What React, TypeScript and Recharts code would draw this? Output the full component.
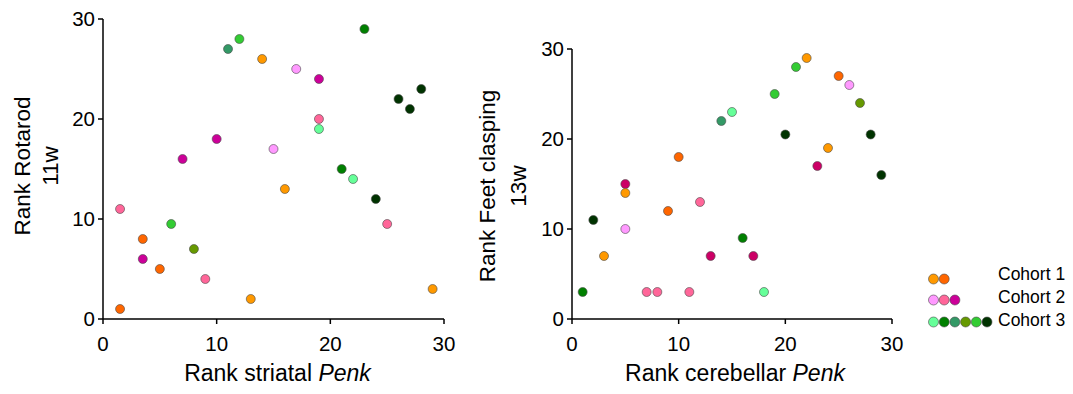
import React from "react";
import { ScatterChart, Scatter, XAxis, YAxis, Label } from "recharts";

const FONT = '"Liberation Sans", Arial, Helvetica, sans-serif';

// animal colour keys: 1x = cohort 1, 2x = cohort 2, 3x = cohort 3
const palette: Record<string, string> = {
  "1a": "#FF9900",
  "1b": "#FF6600",
  "2a": "#FF99FF",
  "2b": "#FF6699",
  "2c": "#CC0099",
  "3a": "#66FF99",
  "3b": "#008000",
  "3c": "#339966",
  "3d": "#669900",
  "3e": "#33CC33",
  "3f": "#003300",
};
const cerebellarPalette = { ...palette, "2c": "#CC0066" };

const cohortNames = ["Cohort 1", "Cohort 2", "Cohort 3"];
const cohortKeys = [
  ["1a", "1b"],
  ["2a", "2b", "2c"],
  ["3a", "3b", "3c", "3d", "3e", "3f"],
];

const axisTicks = [0, 10, 20, 30];

// left panel: striatal Penk vs rotarod
const striatalRank = [1.5, 1.5, 3.5, 3.5, 5, 6, 8, 9, 7, 10, 11, 12, 13, 14, 15, 16, 17, 19, 19, 19, 21, 22, 23, 24, 25, 26, 27, 28, 29];
const rotarodRank = [11, 1, 8, 6, 5, 9.5, 7, 4, 16, 18, 27, 28, 2, 26, 17, 13, 25, 24, 20, 19, 15, 14, 29, 12, 9.5, 22, 21, 23, 3];
const striatalGroup = ["2b", "1b", "1b", "2c", "1b", "3e", "3d", "2b", "2c", "2c", "3c", "3e", "1a", "1a", "2a", "1a", "2a", "2c", "2b", "3a", "3b", "3a", "3b", "3f", "2b", "3f", "3f", "3f", "1a"];

// right panel: cerebellar Penk vs feet clasping
const cerebellarRank = [1, 2, 3, 5, 5, 5, 7, 8, 9, 10, 11, 12, 13, 14, 15, 16, 17, 18, 19, 20, 21, 22, 23, 24, 25, 26, 27, 28, 29];
const claspingRank = [3, 11, 7, 15, 14, 10, 3, 3, 12, 18, 3, 13, 7, 22, 23, 9, 7, 3, 25, 20.5, 28, 29, 17, 19, 27, 26, 24, 20.5, 16];
const cerebellarGroup = ["3b", "3f", "1a", "2c", "1a", "2a", "2b", "2b", "1b", "1b", "2b", "2b", "2c", "3c", "3a", "3b", "2c", "3a", "3e", "3f", "3e", "1a", "2c", "1a", "1b", "2a", "3d", "3f", "3f"];

const striatalData = striatalRank.map((x, i) => ({ x, y: rotarodRank[i], g: striatalGroup[i] }));
const cerebellarData = cerebellarRank.map((x, i) => ({ x, y: claspingRank[i], g: cerebellarGroup[i] }));

const makeDot = (pal: Record<string, string>) => (props: any) => (
  <circle
    cx={props.cx}
    cy={props.cy}
    r={4.5}
    fill={pal[props.payload.g]}
    stroke="#4a4a4a"
    strokeWidth={0.6}
  />
);

type PanelProps = {
  data: { x: number; y: number; g: string }[];
  pal: Record<string, string>;
  left: number;
  width: number;
  margin: { top: number; right: number; bottom: number; left: number };
  xLabel: string;
  xLabelX: number;
  yLines: [string, string];
  yLineX: [number, number];
  yLabelY: number;
};

const Panel = ({ data, pal, left, width, margin, xLabel, xLabelX, yLines, yLineX, yLabelY }: PanelProps) => {
  const axisStyle = { stroke: "#000", strokeWidth: 1.5 };
  const tickStyle = { fill: "#000", fontSize: 20.5, fontFamily: FONT };
  return (
    <div style={{ position: "absolute", left, top: 0 }}>
      <ScatterChart width={width} height={394} margin={margin}>
        <XAxis
          type="number"
          dataKey="x"
          domain={[0, 30]}
          ticks={axisTicks}
          tickSize={5}
          tickMargin={12}
          height={40}
          axisLine={axisStyle}
          tickLine={axisStyle}
          tick={tickStyle}
          allowDataOverflow
        >
          <Label
            content={() => (
              <text x={xLabelX} y={381} textAnchor="middle" fontSize={23} fontFamily={FONT} fill="#000">
                <tspan>{xLabel} </tspan>
                <tspan fontStyle="italic">Penk</tspan>
              </text>
            )}
          />
        </XAxis>
        <YAxis
          type="number"
          dataKey="y"
          domain={[0, 30]}
          ticks={axisTicks}
          tickSize={5}
          tickMargin={3}
          width={60}
          axisLine={axisStyle}
          tickLine={axisStyle}
          tick={tickStyle}
          allowDataOverflow
        >
          <Label
            content={() => (
              <g fontSize={22.5} fontFamily={FONT} fill="#000">
                {yLines.map((line, i) => (
                  <text
                    key={line}
                    x={yLineX[i]}
                    y={yLabelY}
                    textAnchor="middle"
                    transform={`rotate(-90, ${yLineX[i]}, ${yLabelY})`}
                  >
                    {line}
                  </text>
                ))}
              </g>
            )}
          />
        </YAxis>
        <Scatter data={data} shape={makeDot(pal)} isAnimationActive={false} />
      </ScatterChart>
    </div>
  );
};

const Legend = () => (
  <svg width={153} height={80} style={{ position: "absolute", left: 920, top: 260 }}>
    {cohortNames.map((name, row) => {
      const cy = [19, 40, 62][row];
      const baseline = [20, 43, 66][row];
      return (
        <g key={name}>
          {cohortKeys[row].map((k, i) => (
            <circle key={k} cx={13.5 + i * 10.7} cy={cy} r={5} fill={palette[k]} stroke="#4a4a4a" strokeWidth={0.6} />
          ))}
          <text x={78} y={baseline} fontSize={17.5} fontFamily={FONT} fill="#000">
            {name}
          </text>
        </g>
      );
    })}
  </svg>
);

export default function App() {
  return (
    <div style={{ position: "absolute", left: 0, top: 0, width: 1073, height: 394, background: "#fff" }}>
      <Panel
        data={striatalData}
        pal={palette}
        left={0}
        width={470}
        margin={{ top: 19, right: 26, bottom: 35, left: 43 }}
        xLabel="Rank striatal"
        xLabelX={277.5}
        yLines={["Rank Rotarod", "11w"]}
        yLineX={[30, 58]}
        yLabelY={166}
      />
      <Panel
        data={cerebellarData}
        pal={cerebellarPalette}
        left={460}
        width={460}
        margin={{ top: 49, right: 28, bottom: 35, left: 52 }}
        xLabel="Rank cerebellar"
        xLabelX={275}
        yLines={["Rank Feet clasping", "13w"]}
        yLineX={[35, 66]}
        yLabelY={186}
      />
      <Legend />
    </div>
  );
}
